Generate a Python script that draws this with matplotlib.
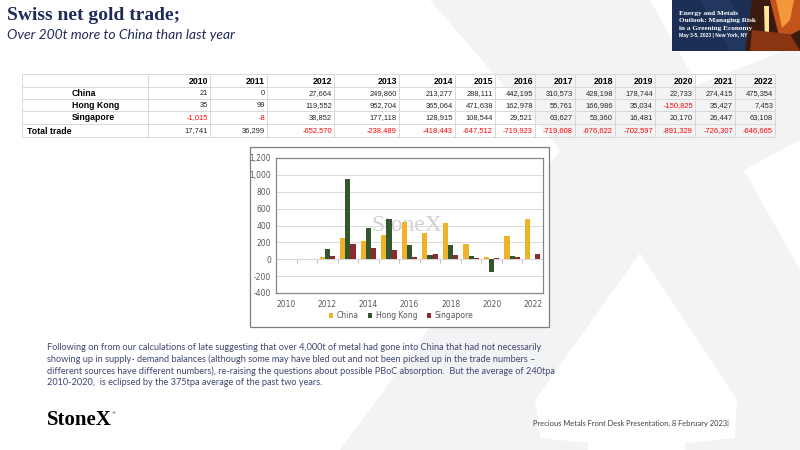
import numpy as np
import matplotlib.pyplot as plt
from matplotlib.patches import Polygon, Rectangle

# Swiss net gold exports (kg) by destination
years = list(range(2010, 2023))
china = [21, 0, 27664, 249860, 213277, 288111, 442195, 310573, 428198, 178744, 22733, 274415, 475354]
hong_kong = [35, 99, 119552, 952704, 365064, 471638, 162978, 55761, 166986, 35034, -150825, 35427, 7453]
singapore = [-1015, -8, 38852, 177118, 128915, 108544, 29521, 63627, 53360, 16481, 20170, 26447, 63108]
total_trade = [17741, 36299, -652570, -238489, -418443, -647512, -719923, -719608, -676622, -702597, -891329, -726307, -646665]
row_names = ["China", "Hong Kong", "Singapore", "Total trade"]

series_names = ["China", "Hong Kong", "Singapore"]
series_colors = ["#EEB32B", "#33562F", "#8E2A2E"]

title = "Swiss net gold trade;"
subtitle = "Over 200t more to China than last year"
body_lines = [
    "Following on from our calculations of late suggesting that over 4,000t of metal had gone into China that had not necessarily",
    "showing up in supply- demand balances (although some may have bled out and not been picked up in the trade numbers \u2013",
    "different sources have different numbers), re-raising the questions about possible PBoC absorption.  But the average of 240tpa",
    "2010-2020,  is eclipsed by the 375tpa average of the past two years.",
]
footer = "Precious Metals Front Desk Presentation, 8 February 2023|"

navy = "#1F2B5B"
text_grey = "#595959"

fig = plt.figure(figsize=(8, 4.5), dpi=100)
fig.patch.set_facecolor("white")

# background layer in pixel coordinates
bg = fig.add_axes([0, 0, 1, 1], zorder=0)
bg.set_xlim(0, 800)
bg.set_ylim(450, 0)
bg.axis("off")

# big faint X watermark
x_shape = [(430, 0), (650, 0), (697, 85), (800, 45), (800, 140), (744, 170), (800, 270),
           (800, 450), (685, 450), (685, 443), (735, 438), (737, 400), (640, 253),
           (535, 400), (540, 438), (588, 443), (588, 450), (340, 450), (560, 150)]
bg.add_patch(Polygon(x_shape, closed=True, facecolor="#F2F3F5", edgecolor="none"))

# title block
bg.text(7, 20, title, fontsize=14, fontweight="bold", family="Liberation Serif",
        color=navy, va="baseline")
bg.text(7, 39, subtitle, fontsize=10, style="italic", family="Lato",
        color=navy, va="baseline")

# event banner top right
bg.add_patch(Rectangle((672, 0), 128, 51, facecolor="#1B2E54", edgecolor="none"))
bg.add_patch(Polygon([(700, 0), (730, 0), (760, 51), (730, 51)], facecolor="#22375F", edgecolor="none"))
bg.add_patch(Polygon([(752, 0), (800, 0), (800, 51), (745, 51)], facecolor="#3B1A10", edgecolor="none"))
bg.add_patch(Polygon([(770, 0), (800, 0), (800, 30), (780, 40)], facecolor="#C2531B", edgecolor="none"))
bg.add_patch(Polygon([(776, 0), (794, 0), (790, 20), (782, 28)], facecolor="#F29A3A", edgecolor="none"))
bg.add_patch(Polygon([(764, 6), (769, 6), (769, 44), (765, 44)], facecolor="#FFE7A0", edgecolor="none"))
bg.add_patch(Polygon([(752, 30), (790, 34), (800, 51), (750, 51)], facecolor="#8A3512", edgecolor="none"))
banner_lines = ["Energy and Metals", "Outlook: Managing Risk", "in a Greening Economy"]
for i, line in enumerate(banner_lines):
    bg.text(679, 13 + 7.6 * i, line, fontsize=5.2, family="Liberation Serif",
            fontweight="bold", color="white", va="center")
bg.text(679, 36, "May 3-5, 2023 | New York, NY", fontsize=3.6, family="Liberation Sans",
        fontweight="bold", color="white", va="center")

# data table
col_edges = [22, 148, 210, 267, 334, 399, 455, 495, 535, 575, 615, 655, 695, 735, 775]
row_edges = [74, 87, 99, 111, 124, 137]
grid_c = "#D9D9D9"
for y in row_edges:
    bg.plot([col_edges[0], col_edges[-1]], [y, y], color=grid_c, lw=0.7)
for x in col_edges:
    bg.plot([x, x], [row_edges[0], row_edges[-1]], color=grid_c, lw=0.7)

row_mid = [(row_edges[i] + row_edges[i + 1]) / 2 + 0.5 for i in range(5)]
for j, yr in enumerate(years):
    bg.text(col_edges[j + 2] - 2, row_mid[0], str(yr), ha="right", va="center",
            fontsize=6.3, fontweight="bold", family="Liberation Sans", color="black")

table_rows = [china, hong_kong, singapore, total_trade]
for i, (name, vals) in enumerate(zip(row_names, table_rows)):
    lx = 27 if name == "Total trade" else 72
    bg.text(lx, row_mid[i + 1], name, ha="left", va="center", fontsize=6.3,
            fontweight="bold", family="Liberation Sans", color="black")
    for j, v in enumerate(vals):
        bg.text(col_edges[j + 2] - 2, row_mid[i + 1], f"{v:,}", ha="right", va="center",
                fontsize=5.4, family="Liberation Sans",
                color="#FF0000" if v < 0 else "#262626")

# chart frame
bg.add_patch(Rectangle((250, 147), 299, 180, facecolor="white", edgecolor="#7F7F7F", lw=0.9))

# body text
for i, line in enumerate(body_lines):
    bg.text(47, 347 + 11.9 * i, line, fontsize=6.6, family="Lato", color="#3E4670", va="center")

bg.text(47, 425, "StoneX", fontsize=15, family="Liberation Serif", fontweight="bold",
        color="black", va="baseline")
bg.text(111, 414, "\u00ae", fontsize=3, color="black", va="baseline")
bg.text(533, 423, footer, fontsize=5.45, family="Lato", color="#404040", va="center")

# bar chart, tonnes
ax = fig.add_axes([276 / 800, 1 - 293 / 450, 267 / 800, 135 / 450], zorder=2)
x = np.arange(len(years))
w = 0.25
for k, (vals, name, col) in enumerate(zip([china, hong_kong, singapore], series_names, series_colors)):
    ax.bar(x + (k - 1) * w, np.array(vals) / 1000, w, color=col, label=name, zorder=3)

ax.set_xlim(-0.5, len(years) - 0.5)
ax.set_ylim(-400, 1200)
ax.set_yticks(range(-400, 1201, 200))
ax.set_yticklabels([f"{v:,}" for v in range(-400, 1201, 200)])
ax.set_xticks(x[::2])
ax.set_xticklabels([str(y) for y in years[::2]])
ax.tick_params(length=0, labelsize=5.5, colors=text_grey)
ax.tick_params(axis="x", pad=5)
ax.tick_params(axis="y", pad=3.5)
ax.grid(axis="y", color=grid_c, lw=0.7, zorder=0)
ax.axhline(0, color="#BFBFBF", lw=0.8, zorder=1)
ax.vlines(np.arange(-0.5, len(years), 1), -40, 0, color="#BFBFBF", lw=0.7, zorder=1)
for s in ax.spines.values():
    s.set_color("#868686")
    s.set_linewidth(0.9)
ax.text(0.49, 0.5, "StoneX", transform=ax.transAxes, fontsize=17, family="Liberation Serif",
        color="#BFBFBF", alpha=0.7, ha="center", va="center", zorder=1)

fig.legend(loc="center", bbox_to_anchor=(401 / 800, 1 - 316 / 450), ncol=3, frameon=False,
           fontsize=5.5, handlelength=0.55, handleheight=0.55, handletextpad=0.4,
           columnspacing=1.3, labelcolor=text_grey)

fig.savefig("out.png", dpi=100)
